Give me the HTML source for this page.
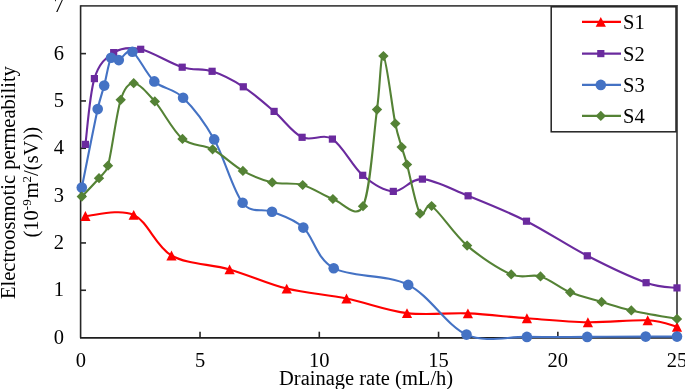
<!DOCTYPE html>
<html><head><meta charset="utf-8"><style>
html,body{margin:0;padding:0;background:#fff;}
body{width:685px;height:389px;overflow:hidden;font-family:"Liberation Serif",serif;}
svg{display:block;will-change:transform;}
</style></head><body>
<svg width="685" height="389" viewBox="0 0 685 389"><path d="M80.6,5.9 H677 V337.7" fill="none" stroke="#484848" stroke-width="1.8"/>
<path d="M80.6,5.2 V337.7" fill="none" stroke="#262626" stroke-width="1.6"/>
<line x1="80.6" y1="290.27" x2="86" y2="290.27" stroke="#262626" stroke-width="1.6"/>
<line x1="80.6" y1="242.94" x2="86" y2="242.94" stroke="#262626" stroke-width="1.6"/>
<line x1="80.6" y1="195.61" x2="86" y2="195.61" stroke="#262626" stroke-width="1.6"/>
<line x1="80.6" y1="148.28" x2="86" y2="148.28" stroke="#262626" stroke-width="1.6"/>
<line x1="80.6" y1="100.95" x2="86" y2="100.95" stroke="#262626" stroke-width="1.6"/>
<line x1="80.6" y1="53.62" x2="86" y2="53.62" stroke="#262626" stroke-width="1.6"/>
<line x1="200.03" y1="337.7" x2="200.03" y2="331.7" stroke="#262626" stroke-width="1.6"/>
<line x1="319.3" y1="337.7" x2="319.3" y2="331.7" stroke="#262626" stroke-width="1.6"/>
<line x1="438.57" y1="337.7" x2="438.57" y2="331.7" stroke="#262626" stroke-width="1.6"/>
<line x1="557.85" y1="337.7" x2="557.85" y2="331.7" stroke="#262626" stroke-width="1.6"/>
<line x1="80" y1="337.85" x2="677.5" y2="337.85" stroke="#1e1e1e" stroke-width="1.8"/>
<path d="M85.4,216 C93.45,215.82 119.35,208.32 133.7,214.9 C148.05,221.48 155.52,246.42 171.5,255.5 C187.48,264.58 210.4,263.88 229.6,269.4 C248.8,274.92 267.22,283.75 286.7,288.6 C306.18,293.45 326.45,294.42 346.5,298.5 C366.55,302.58 386.77,310.62 407,313.1 C427.23,315.58 447.92,312.53 467.9,313.4 C487.88,314.27 506.9,316.83 526.9,318.3 C546.9,319.77 567.77,321.87 587.9,322.2 C608.03,322.53 632.85,319.53 647.7,320.3 C662.55,321.07 672.12,325.72 677,326.8" fill="none" stroke="#FF0000" stroke-width="2.1" stroke-linejoin="round" stroke-linecap="round"/>
<path d="M85.4,211.05 L90.5,220.95 L80.3,220.95 Z" fill="#FF0000"/>
<path d="M133.7,209.95 L138.8,219.85 L128.6,219.85 Z" fill="#FF0000"/>
<path d="M171.5,250.55 L176.6,260.45 L166.4,260.45 Z" fill="#FF0000"/>
<path d="M229.6,264.45 L234.7,274.35 L224.5,274.35 Z" fill="#FF0000"/>
<path d="M286.7,283.65 L291.8,293.55 L281.6,293.55 Z" fill="#FF0000"/>
<path d="M346.5,293.55 L351.6,303.45 L341.4,303.45 Z" fill="#FF0000"/>
<path d="M407,308.15 L412.1,318.05 L401.9,318.05 Z" fill="#FF0000"/>
<path d="M467.9,308.45 L473,318.35 L462.8,318.35 Z" fill="#FF0000"/>
<path d="M526.9,313.35 L532,323.25 L521.8,323.25 Z" fill="#FF0000"/>
<path d="M587.9,317.25 L593,327.15 L582.8,327.15 Z" fill="#FF0000"/>
<path d="M647.7,315.35 L652.8,325.25 L642.6,325.25 Z" fill="#FF0000"/>
<path d="M677,321.85 L682.1,331.75 L671.9,331.75 Z" fill="#FF0000"/>
<path d="M85.4,144.4 C86.9,133.43 89.68,93.9 94.4,78.6 C99.12,63.3 105.98,57.48 113.7,52.6 C121.42,47.72 129.28,46.87 140.7,49.3 C152.12,51.73 170.3,63.53 182.2,67.2 C194.1,70.87 201.92,68.03 212.1,71.3 C222.28,74.57 232.97,80.12 243.3,86.8 C253.63,93.48 264.3,102.98 274.1,111.4 C283.9,119.82 292.38,132.68 302.1,137.3 C311.82,141.92 322.3,132.77 332.4,139.1 C342.5,145.43 352.55,166.58 362.7,175.3 C372.85,184.02 383.35,190.77 393.3,191.4 C403.25,192.03 409.93,178.37 422.4,179.1 C434.87,179.83 450.75,188.78 468.1,195.8 C485.45,202.82 506.63,211.2 526.5,221.2 C546.37,231.2 567.37,245.55 587.3,255.8 C607.23,266.05 631.15,277.35 646.1,282.7 C660.85,287.98 671.85,287.03 677,287.9" fill="none" stroke="#6A2A9E" stroke-width="2.1" stroke-linejoin="round" stroke-linecap="round"/>
<rect x="81.8" y="140.8" width="7.2" height="7.2" fill="#6A2A9E"/>
<rect x="90.8" y="75" width="7.2" height="7.2" fill="#6A2A9E"/>
<rect x="110.1" y="49" width="7.2" height="7.2" fill="#6A2A9E"/>
<rect x="137.1" y="45.7" width="7.2" height="7.2" fill="#6A2A9E"/>
<rect x="178.6" y="63.6" width="7.2" height="7.2" fill="#6A2A9E"/>
<rect x="208.5" y="67.7" width="7.2" height="7.2" fill="#6A2A9E"/>
<rect x="239.7" y="83.2" width="7.2" height="7.2" fill="#6A2A9E"/>
<rect x="270.5" y="107.8" width="7.2" height="7.2" fill="#6A2A9E"/>
<rect x="298.5" y="133.7" width="7.2" height="7.2" fill="#6A2A9E"/>
<rect x="328.8" y="135.5" width="7.2" height="7.2" fill="#6A2A9E"/>
<rect x="359.1" y="171.7" width="7.2" height="7.2" fill="#6A2A9E"/>
<rect x="389.7" y="187.8" width="7.2" height="7.2" fill="#6A2A9E"/>
<rect x="418.8" y="175.5" width="7.2" height="7.2" fill="#6A2A9E"/>
<rect x="464.5" y="192.2" width="7.2" height="7.2" fill="#6A2A9E"/>
<rect x="522.9" y="217.6" width="7.2" height="7.2" fill="#6A2A9E"/>
<rect x="583.7" y="252.2" width="7.2" height="7.2" fill="#6A2A9E"/>
<rect x="642.5" y="279.1" width="7.2" height="7.2" fill="#6A2A9E"/>
<rect x="673.4" y="284.3" width="7.2" height="7.2" fill="#6A2A9E"/>
<path d="M81.8,187.6 C84.45,174.52 93.97,126.1 97.7,109.1 C100.31,97.19 101.97,94.17 104.2,85.6 C106.43,77.03 108.67,61.95 111.1,57.7 C113.1,54.2 115.25,61.08 118.8,60.1 C122.35,59.12 126.48,48.25 132.4,51.8 C138.32,55.35 145.85,73.75 154.3,81.4 C162.75,89.05 173.12,88.03 183.1,97.7 C193.08,107.37 204.28,121.88 214.2,139.4 C224.12,156.92 232.97,190.75 242.6,202.8 C252.19,214.8 261.88,207.57 272,211.7 C282.12,215.83 293.02,218.18 303.3,227.6 C313.58,237.02 316.22,258.65 333.7,268.2 C351.18,277.75 386.07,273.83 408.2,284.9 C430.33,295.97 446.72,325.93 466.5,334.6 C486.28,343.27 506.78,336.52 526.9,336.9 C547.02,337.28 567.4,336.95 587.2,336.9 C607,336.85 630.73,336.65 645.7,336.6 C660.67,336.55 671.78,336.6 677,336.6" fill="none" stroke="#4472C4" stroke-width="2.1" stroke-linejoin="round" stroke-linecap="round"/>
<circle cx="81.8" cy="187.6" r="5.3" fill="#4472C4"/>
<circle cx="97.7" cy="109.1" r="5.3" fill="#4472C4"/>
<circle cx="104.2" cy="85.6" r="5.3" fill="#4472C4"/>
<circle cx="111.1" cy="57.7" r="5.3" fill="#4472C4"/>
<circle cx="118.8" cy="60.1" r="5.3" fill="#4472C4"/>
<circle cx="132.4" cy="51.8" r="5.3" fill="#4472C4"/>
<circle cx="154.3" cy="81.4" r="5.3" fill="#4472C4"/>
<circle cx="183.1" cy="97.7" r="5.3" fill="#4472C4"/>
<circle cx="214.2" cy="139.4" r="5.3" fill="#4472C4"/>
<circle cx="242.6" cy="202.8" r="5.3" fill="#4472C4"/>
<circle cx="272" cy="211.7" r="5.3" fill="#4472C4"/>
<circle cx="303.3" cy="227.6" r="5.3" fill="#4472C4"/>
<circle cx="333.7" cy="268.2" r="5.3" fill="#4472C4"/>
<circle cx="408.2" cy="284.9" r="5.3" fill="#4472C4"/>
<circle cx="466.5" cy="334.6" r="5.3" fill="#4472C4"/>
<circle cx="526.9" cy="336.9" r="5.3" fill="#4472C4"/>
<circle cx="587.2" cy="336.9" r="5.3" fill="#4472C4"/>
<circle cx="645.7" cy="336.6" r="5.3" fill="#4472C4"/>
<circle cx="677" cy="336.6" r="5.3" fill="#4472C4"/>
<path d="M81.8,196.6 C84.67,193.53 94.63,183.35 99,178.2 C103.37,173.05 105.95,173.12 108,165.7 C111.62,152.63 116.42,113.55 120.7,99.8 C123.84,89.73 128.02,82.93 133.7,83.2 C139.38,83.47 146.67,92.12 154.8,101.4 C162.93,110.68 172.87,130.92 182.5,138.9 C192.13,146.88 202.53,143.97 212.6,149.3 C222.67,154.63 232.97,165.38 242.9,170.9 C252.83,176.42 262.23,180.05 272.2,182.4 C282.17,184.75 292.58,182.23 302.7,185 C312.82,187.77 322.85,195.47 332.9,199 C342.95,202.53 356.15,220.08 363,206.2 C370.35,191.3 373.6,134.63 377,109.6 C380.4,84.57 380.35,53.67 383.4,56 C386.45,58.33 392.25,108.42 395.3,123.6 C397.7,135.54 399.75,140.28 401.7,147.1 C403.65,153.92 404.59,155.73 407,164.5 C410.05,175.6 415.9,206.78 420,213.7 C423.55,219.69 425.84,202.1 431.6,206 C439.45,211.32 453.83,234.2 467.1,245.6 C480.37,257 498.97,269.27 511.2,274.4 C523.43,279.53 530.67,273.42 540.5,276.4 C550.33,279.38 560.02,288.05 570.2,292.3 C580.38,296.55 591.42,298.88 601.6,301.9 C611.78,304.92 618.73,307.57 631.3,310.4 C643.87,313.23 669.38,317.48 677,318.9" fill="none" stroke="#548235" stroke-width="2.1" stroke-linejoin="round" stroke-linecap="round"/>
<path d="M81.8,191.5 L87,196.6 L81.8,201.7 L76.6,196.6 Z" fill="#548235"/>
<path d="M99,173.1 L104.2,178.2 L99,183.3 L93.8,178.2 Z" fill="#548235"/>
<path d="M108,160.6 L113.2,165.7 L108,170.8 L102.8,165.7 Z" fill="#548235"/>
<path d="M120.7,94.7 L125.9,99.8 L120.7,104.9 L115.5,99.8 Z" fill="#548235"/>
<path d="M133.7,78.1 L138.9,83.2 L133.7,88.3 L128.5,83.2 Z" fill="#548235"/>
<path d="M154.8,96.3 L160,101.4 L154.8,106.5 L149.6,101.4 Z" fill="#548235"/>
<path d="M182.5,133.8 L187.7,138.9 L182.5,144 L177.3,138.9 Z" fill="#548235"/>
<path d="M212.6,144.2 L217.8,149.3 L212.6,154.4 L207.4,149.3 Z" fill="#548235"/>
<path d="M242.9,165.8 L248.1,170.9 L242.9,176 L237.7,170.9 Z" fill="#548235"/>
<path d="M272.2,177.3 L277.4,182.4 L272.2,187.5 L267,182.4 Z" fill="#548235"/>
<path d="M302.7,179.9 L307.9,185 L302.7,190.1 L297.5,185 Z" fill="#548235"/>
<path d="M332.9,193.9 L338.1,199 L332.9,204.1 L327.7,199 Z" fill="#548235"/>
<path d="M363,201.1 L368.2,206.2 L363,211.3 L357.8,206.2 Z" fill="#548235"/>
<path d="M377,104.5 L382.2,109.6 L377,114.7 L371.8,109.6 Z" fill="#548235"/>
<path d="M383.4,50.9 L388.6,56 L383.4,61.1 L378.2,56 Z" fill="#548235"/>
<path d="M395.3,118.5 L400.5,123.6 L395.3,128.7 L390.1,123.6 Z" fill="#548235"/>
<path d="M401.7,142 L406.9,147.1 L401.7,152.2 L396.5,147.1 Z" fill="#548235"/>
<path d="M407,159.4 L412.2,164.5 L407,169.6 L401.8,164.5 Z" fill="#548235"/>
<path d="M420,208.6 L425.2,213.7 L420,218.8 L414.8,213.7 Z" fill="#548235"/>
<path d="M431.6,200.9 L436.8,206 L431.6,211.1 L426.4,206 Z" fill="#548235"/>
<path d="M467.1,240.5 L472.3,245.6 L467.1,250.7 L461.9,245.6 Z" fill="#548235"/>
<path d="M511.2,269.3 L516.4,274.4 L511.2,279.5 L506,274.4 Z" fill="#548235"/>
<path d="M540.5,271.3 L545.7,276.4 L540.5,281.5 L535.3,276.4 Z" fill="#548235"/>
<path d="M570.2,287.2 L575.4,292.3 L570.2,297.4 L565,292.3 Z" fill="#548235"/>
<path d="M601.6,296.8 L606.8,301.9 L601.6,307 L596.4,301.9 Z" fill="#548235"/>
<path d="M631.3,305.3 L636.5,310.4 L631.3,315.5 L626.1,310.4 Z" fill="#548235"/>
<path d="M677,313.8 L682.2,318.9 L677,324 L671.8,318.9 Z" fill="#548235"/>
<g font-family="Liberation Serif, serif" font-size="20.5" fill="#000"><text x="64" y="343.6" text-anchor="end">0</text>
<text x="64" y="296.27" text-anchor="end">1</text>
<text x="64" y="248.94" text-anchor="end">2</text>
<text x="64" y="201.61" text-anchor="end">3</text>
<text x="64" y="154.28" text-anchor="end">4</text>
<text x="64" y="106.95" text-anchor="end">5</text>
<text x="64" y="59.62" text-anchor="end">6</text>
<text x="64" y="12.29" text-anchor="end">7</text>
<text x="80.75" y="367" text-anchor="middle">0</text>
<text x="200.03" y="367" text-anchor="middle">5</text>
<text x="319.3" y="367" text-anchor="middle">10</text>
<text x="438.57" y="367" text-anchor="middle">15</text>
<text x="557.85" y="367" text-anchor="middle">20</text>
<text x="677.12" y="367" text-anchor="middle">25</text>
<text x="279" y="385" >Drainage rate (mL/h)</text>
<text transform="translate(14.8,299.0) rotate(-90)">Electroosmotic permeability</text>
<text transform="translate(38,237.5) rotate(-90)">(10<tspan dy="-7" font-size="13">-9</tspan><tspan dy="7" dx="1">m</tspan><tspan dy="-7" font-size="13">2</tspan><tspan dy="7">/(sV))</tspan></text>
<rect x="551.2" y="6.8" width="124.8" height="125" fill="#fff" stroke="#222" stroke-width="1.5"/>
<line x1="582" y1="21.9" x2="621" y2="21.9" stroke="#FF0000" stroke-width="2.1"/>
<path d="M600.8,16.95 L605.9,26.85 L595.7,26.85 Z" fill="#FF0000"/>
<text x="623" y="28.9">S1</text>
<line x1="582" y1="53.6" x2="621" y2="53.6" stroke="#6A2A9E" stroke-width="2.1"/>
<rect x="597.2" y="50" width="7.2" height="7.2" fill="#6A2A9E"/>
<text x="623" y="60.6">S2</text>
<line x1="582" y1="84.9" x2="621" y2="84.9" stroke="#4472C4" stroke-width="2.1"/>
<circle cx="600.8" cy="84.9" r="5.3" fill="#4472C4"/>
<text x="623" y="91.9">S3</text>
<line x1="582" y1="115.9" x2="621" y2="115.9" stroke="#548235" stroke-width="2.1"/>
<path d="M600.8,110.8 L606,115.9 L600.8,121 L595.6,115.9 Z" fill="#548235"/>
<text x="623" y="122.9">S4</text></g></svg>
</body></html>
